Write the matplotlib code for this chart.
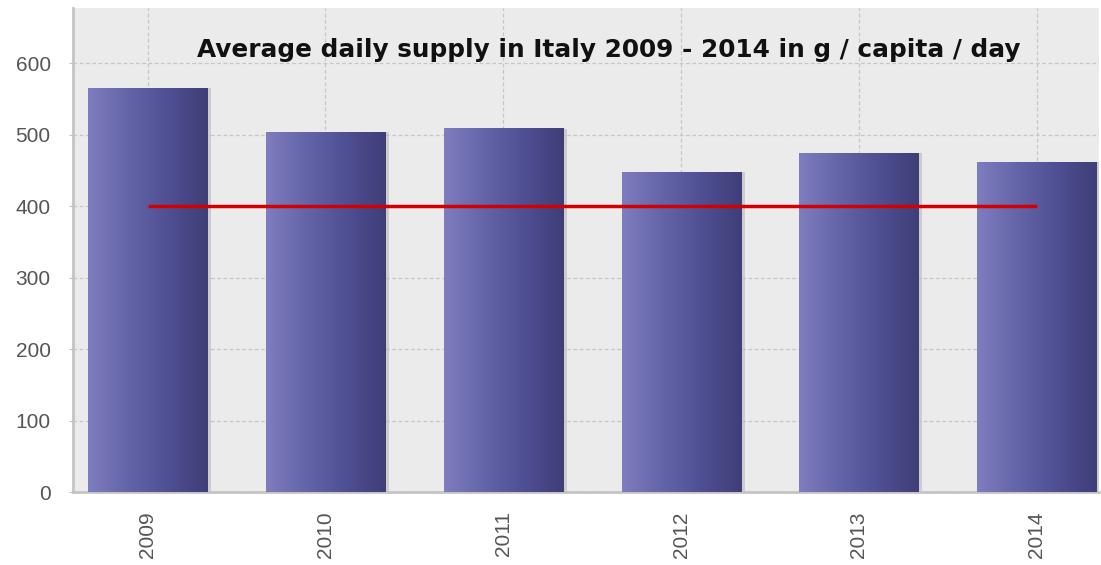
import numpy as np
import matplotlib
matplotlib.use('Agg')
import matplotlib.pyplot as plt
from matplotlib.colors import LinearSegmentedColormap

# Data
years = ['2009', '2010', '2011', '2012', '2013', '2014']
supply = [565, 503, 508, 447, 474, 461]
target = [400, 400, 400, 400, 400, 400]

fig = plt.figure(figsize=(11.01, 5.65), dpi=100)
ax = fig.add_axes([73 / 1101, 73 / 565, 1026 / 1101, 484 / 565])
ax.set_facecolor('#ebebeb')

x = np.arange(len(years))
width = 0.67

# gradient bars: light on the left, dark on the right
cmap = LinearSegmentedColormap.from_list('bar', ['#7d7dbf', '#6464a8', '#4f4f93', '#3e3e78'])
grad = np.linspace(0, 1, 256).reshape(1, -1)
bars = ax.bar(x, supply, width=width, color='none', edgecolor='none', zorder=3)
for b in bars:
    x0, w, h = b.get_x(), b.get_width(), b.get_height()
    # soft shadow
    ax.bar(x0 + w / 2 + 0.012, h, width=w + 0.02, color='#b8b8b8', alpha=0.6, zorder=2.5)
    ax.imshow(grad, cmap=cmap, aspect='auto', extent=[x0, x0 + w, 0, h], zorder=3)

ax.plot(x, target, color='#d40000', lw=2.5, zorder=4, solid_capstyle='butt')

ax.set_xlim(-0.42, 5.35)
ax.set_ylim(0, 677)
ax.set_yticks([0, 100, 200, 300, 400, 500, 600])
ax.set_xticks(x)
ax.set_xticklabels(years, rotation=90)
for lab in ax.get_xticklabels() + ax.get_yticklabels():
    lab.set_family('Liberation Sans')
    lab.set_fontsize(15)
ax.tick_params(axis='both', colors='#555555', length=3)
ax.tick_params(axis='x', length=0, pad=14)
ax.tick_params(axis='y', color='#c0c0c0', pad=13)

ax.grid(True, color='#c6c6c6', linestyle=(0, (3, 2)), lw=0.9, zorder=1)
ax.set_axisbelow(True)
for side in ['top', 'right']:
    ax.spines[side].set_visible(False)
ax.spines['left'].set_color('#c4c4c4')
ax.spines['left'].set_linewidth(2)
ax.spines['bottom'].set_color('#c4c4c4')
ax.spines['bottom'].set_linewidth(2)

ax.text(0.522, 0.913, 'Average daily supply in Italy 2009 - 2014 in g / capita / day',
        transform=ax.transAxes, ha='center', va='center', fontsize=17.8,
        fontweight='bold', color='#111111', zorder=5)

fig.savefig('out.png', dpi=100)
